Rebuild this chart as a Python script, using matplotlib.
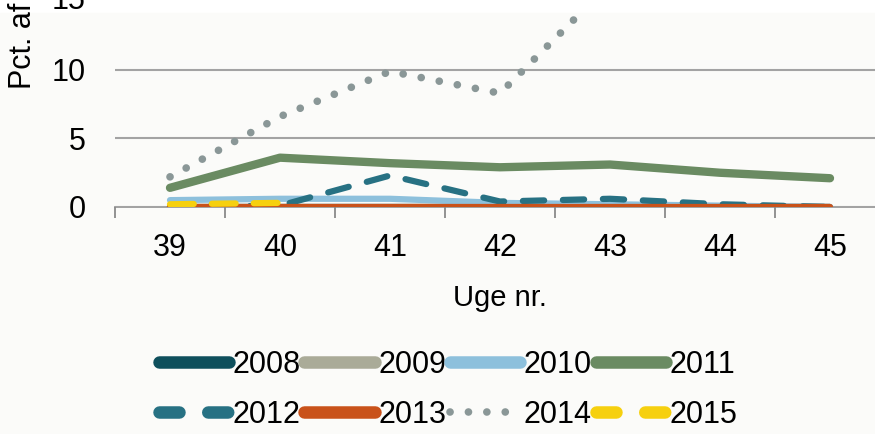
import matplotlib
matplotlib.use('Agg')
from matplotlib import pyplot as plt
import matplotlib.patches as mpatches

plt.rcParams['font.family'] = ['Liberation Sans', 'DejaVu Sans']

# data (Pct. per week)
weeks = ['39', '40', '41', '42', '43', '44', '45']
y2008 = [0, 0, 0, 0, 0, 0, 0]
y2009 = [0, 0, 0, 0, 0, 0, 0]
y2010 = [0.5, 0.6, 0.6, 0.3, 0.2, 0.1, 0.0]
y2011 = [1.4, 3.6, 3.2, 2.9, 3.1, 2.5, 2.1]
y2012 = [0.0, 0.1, 2.3, 0.4, 0.6, 0.2, 0.0]
y2013 = [0, 0, 0, 0, 0, 0, 0]
y2014 = [2.2, 6.6, 9.9, 8.3, 16.3, 19.0, 21.0]
y2015 = [0.2, 0.3]

FS = 22

fig = plt.figure(figsize=(8.75, 4.34), dpi=100, facecolor='white')
# slightly off-white background, white strip on top (source is cropped)
fig.patches.append(mpatches.Rectangle((0, 0), 1, (434 - 13) / 434.0, transform=fig.transFigure,
                                      color='#fbfbf9', zorder=-10))

ax = fig.add_axes([115 / 875.0, (434 - 207) / 434.0, 770 / 875.0, (207 - 13) / 434.0])
ax.set_facecolor('none')

x = list(range(len(weeks)))
h = {}
h['2008'], = ax.plot(x, y2008, color='#0e4f5c', lw=4.5, solid_capstyle='round')
h['2009'], = ax.plot(x, y2009, color='#aaab98', lw=4.5, solid_capstyle='round')
h['2010'], = ax.plot(x, y2010, color='#8dc0dc', lw=4.5, solid_capstyle='round')
h['2011'], = ax.plot(x, y2011, color='#6a8b62', lw=6, solid_capstyle='round')
h['2012'], = ax.plot(x, y2012, color='#277183', lw=4.5, linestyle=(0, (3.4, 3.0)), dash_capstyle='round')
h['2013'], = ax.plot(x, y2013, color='#c9521a', lw=4.5, solid_capstyle='round')
h['2014'], = ax.plot(x, y2014, color='#8a9797', lw=5.5, linestyle=(0, (0.01, 2.4)), dash_capstyle='round')
h['2015'], = ax.plot(x[:len(y2015)], y2015, color='#f6d00f', lw=4.5, linestyle=(0, (3.8, 2.9)), dash_capstyle='round')

ax.set_xlim(-0.5, 6.5)
ax.set_ylim(0, 14.16)
ax.set_yticks([0, 5, 10])
ax.set_xticks(x)
ax.set_xticklabels(weeks)
ax.set_xticks([i - 0.5 for i in range(8)], minor=True)
ax.tick_params(axis='x', which='major', length=0, labelsize=FS, pad=19)
ax.tick_params(axis='x', which='minor', length=8, width=1.3, color='#8a8a8a', direction='out')
ax.tick_params(axis='y', length=0, labelsize=FS, pad=21)
ax.grid(axis='y', color='#a3a3a3', lw=1.5)
ax.set_axisbelow(True)
for s in ['left', 'right', 'top']:
    ax.spines[s].set_visible(False)
ax.spines['bottom'].set_color('#9a9a9a')
ax.spines['bottom'].set_linewidth(1.3)
ax.spines['bottom'].set_zorder(0)

# 15 label sits above the cropped top
ax.annotate('15', xy=(0, 15), xycoords=('axes fraction', 'data'), xytext=(-21, 0),
            textcoords='offset points', ha='right', va='center', fontsize=FS, annotation_clip=False)

ax.set_xlabel('Uge nr.', fontsize=21, labelpad=15)
fig.text(23 / 875.0, (434 - 89) / 434.0, 'Pct. af prøver', rotation=90, ha='center', va='bottom', fontsize=FS)

# legend filled row by row like the source
order = ['2008', '2012', '2009', '2013', '2010', '2014', '2011', '2015']
leg = fig.legend([h[k] for k in order], order, loc='center', bbox_to_anchor=(0.512, 0.102), ncol=4,
                 frameon=False, fontsize=FS, handlelength=2.3, handletextpad=0.12, columnspacing=0.12,
                 labelspacing=0.65)
# legend keys are drawn thicker than the lines in the plot
for line, k in zip(leg.get_lines(), order):
    if k == '2014':
        line.set_linewidth(5.5)
        line.set_linestyle((0, (0.01, 2.4)))
    elif k in ('2012', '2015'):
        line.set_linewidth(9)
        line.set_linestyle((0, (1.6, 2.3)))
    else:
        line.set_linewidth(9)

plt.savefig('out.png', dpi=100, facecolor='white')
